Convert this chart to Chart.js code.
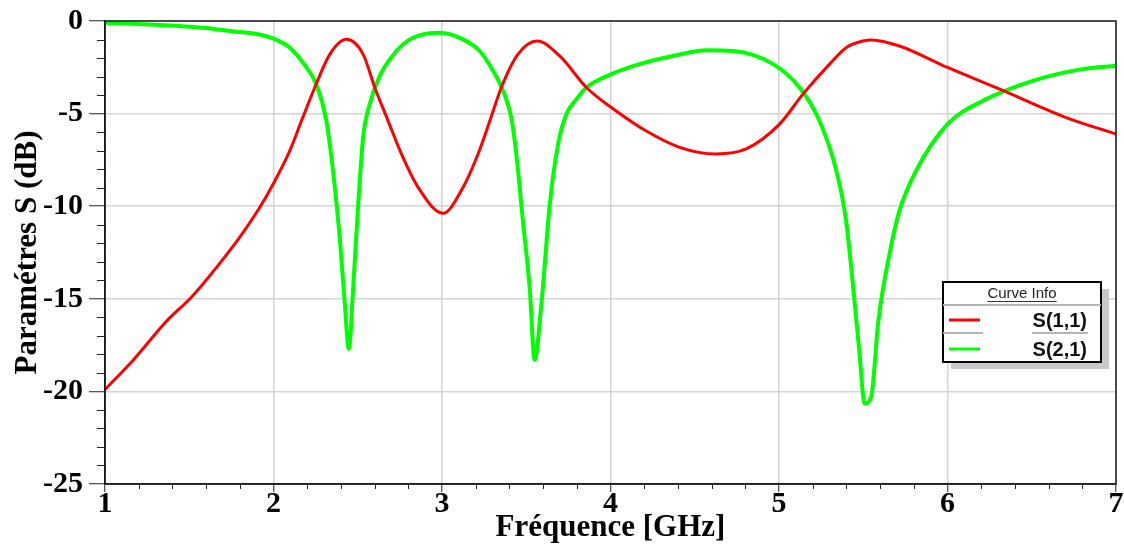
<!DOCTYPE html>
<html>
<head>
<meta charset="utf-8">
<script src="https://cdn.jsdelivr.net/npm/chart.js@4.4.1/dist/chart.umd.min.js"></script>
<style>
  body { margin: 0; background: #fff; }
  #wrap { width: 1124px; height: 550px; }
</style>
</head>
<body>
<div id="wrap"><canvas id="sparams" width="1124" height="550"></canvas></div>
<script>
// S(1,1)
const s11Freq = [1.0, 1.168, 1.366, 1.514, 1.662, 1.80, 1.919, 1.998, 2.097, 2.166, 2.245, 2.334, 2.433, 2.532, 2.601,
  2.68, 2.759, 2.858, 3.006, 3.125, 3.214, 3.284, 3.352, 3.45, 3.565, 3.70, 3.857, 4.005, 4.21, 4.41,
  4.627, 4.805, 5.003, 5.142, 5.30, 5.398, 5.498, 5.55, 5.715, 6.0, 6.31, 6.70, 7.0];
const s11dB = [-19.9, -18.3, -16.2, -14.9, -13.3, -11.67, -10.06, -8.8, -7.0, -5.39, -3.59, -1.8, -0.99, -1.8, -3.59,
  -5.39, -7.18, -8.98, -10.38, -8.98, -7.18, -5.39, -3.59, -1.8, -1.08, -1.9, -3.59, -4.67, -5.93, -6.82,
  -7.18, -6.91, -5.57, -3.95, -2.33, -1.44, -1.08, -1.02, -1.35, -2.51, -3.68, -5.2, -6.1];

// S(2,1)
const s21Freq = [1.0, 1.3, 1.6, 1.741, 1.9, 2.0, 2.097, 2.196, 2.254, 2.314, 2.353, 2.393, 2.423, 2.447, 2.473,
  2.503, 2.532, 2.571, 2.631, 2.73, 2.828, 2.987, 3.125, 3.224, 3.303, 3.362, 3.411, 3.441, 3.48, 3.52,
  3.55, 3.59, 3.64, 3.69, 3.74, 3.80, 3.857, 4.005, 4.172, 4.37, 4.57, 4.73, 4.965, 5.122, 5.24, 5.34,
  5.398, 5.44, 5.478, 5.508, 5.547, 5.59, 5.656, 5.715, 5.814, 6.0, 6.21, 6.506, 6.80, 7.0];
const s21dB = [-0.1, -0.2, -0.38, -0.54, -0.7, -0.95, -1.44, -2.51, -3.41, -5.39, -8.08, -11.67, -15.26, -17.7, -14.37,
  -9.88, -6.28, -4.49, -2.96, -1.62, -0.9, -0.63, -0.99, -1.62, -2.69, -3.77, -5.2, -7.18, -10.78, -14.37,
  -18.3, -15.26, -9.88, -6.6, -5.0, -4.2, -3.59, -2.87, -2.33, -1.89, -1.58, -1.62, -2.33, -3.59, -5.39, -8.08,
  -10.78, -14.37, -17.96, -20.65, -20.3, -16.16, -12.57, -10.24, -8.08, -5.57, -4.31, -3.23, -2.6, -2.42];

const seriesNames = ['S(1,1)', 'S(2,1)'];
const seriesColors = ['#ff0000', '#00ff00'];
const xTicks = [1, 2, 3, 4, 5, 6, 7];
const yTicks = [0, -5, -10, -15, -20, -25];

const toPoints = (fs, vs) => fs.map((f, i) => ({ x: f, y: vs[i] }));

// minor ticks, frame and the "Curve Info" box
const extras = {
    id: 'extras',
    afterDraw(chart) {
        const { ctx, chartArea: a, scales: { x, y } } = chart;
        ctx.save();
        ctx.strokeStyle = '#1a1a1a';
        ctx.lineWidth = 1.5;
        ctx.strokeRect(a.left, a.top, a.right - a.left, a.bottom - a.top);

        ctx.lineWidth = 1;
        ctx.strokeStyle = '#222';
        ctx.beginPath();
        for (let v = 1; v < 7; v += 0.2) {
            const r = Math.round(v * 5) / 5;
            if (Math.abs(r - Math.round(r)) < 1e-6) continue;
            const px = Math.round(x.getPixelForValue(r)) + 0.5;
            ctx.moveTo(px, a.bottom);
            ctx.lineTo(px, a.bottom + 5);
        }
        for (let v = -24; v < 0; v++) {
            if (v % 5 === 0) continue;
            const py = Math.round(y.getPixelForValue(v)) + 0.5;
            ctx.moveTo(a.left - 8, py);
            ctx.lineTo(a.left, py);
        }
        ctx.stroke();

        // legend box
        const bx = 943, by = 282, bw = 158, bh = 80;
        ctx.fillStyle = '#c8c8c8';
        ctx.fillRect(bx + 8, by + 7, bw, bh);
        ctx.fillStyle = '#fff';
        ctx.fillRect(bx, by, bw, bh);
        ctx.strokeStyle = '#000';
        ctx.lineWidth = 2;
        ctx.strokeRect(bx, by, bw, bh);

        ctx.fillStyle = '#222';
        ctx.font = '15px "Liberation Sans", Arial, sans-serif';
        ctx.textAlign = 'center';
        ctx.textBaseline = 'middle';
        ctx.fillText('Curve Info', bx + 79, by + 12);
        const tw = ctx.measureText('Curve Info').width;
        ctx.strokeStyle = '#333';
        ctx.lineWidth = 1;
        ctx.beginPath();
        ctx.moveTo(bx + 79 - tw / 2, by + 19.5);
        ctx.lineTo(bx + 79 + tw / 2, by + 19.5);
        ctx.stroke();

        ctx.strokeStyle = '#b4b4b4';
        ctx.lineWidth = 2;
        ctx.beginPath();
        ctx.moveTo(bx, by + 23);
        ctx.lineTo(bx + bw, by + 23);
        ctx.moveTo(bx, by + 51);
        ctx.lineTo(bx + 40, by + 51);
        ctx.moveTo(bx + 89, by + 51);
        ctx.lineTo(bx + 145, by + 51);
        ctx.stroke();

        ctx.font = 'bold 20px "Liberation Sans", Arial, sans-serif';
        ctx.textAlign = 'right';
        seriesNames.forEach((name, i) => {
            const ry = by + 38 + i * 29;
            ctx.strokeStyle = seriesColors[i];
            ctx.lineWidth = 3;
            ctx.beginPath();
            ctx.moveTo(bx + 6, ry);
            ctx.lineTo(bx + 37, ry);
            ctx.stroke();
            ctx.fillStyle = '#111';
            ctx.fillText(name, bx + 144, ry + 1);
        });
        ctx.restore();
    }
};

const serif = '"Liberation Serif", "Times New Roman", serif';

new Chart(document.getElementById('sparams'), {
    type: 'line',
    data: {
        datasets: [{
            label: seriesNames[0],
            data: toPoints(s11Freq, s11dB),
            borderColor: seriesColors[0],
            borderWidth: 3,
            pointRadius: 0,
            cubicInterpolationMode: 'monotone'
        }, {
            label: seriesNames[1],
            data: toPoints(s21Freq, s21dB),
            borderColor: seriesColors[1],
            borderWidth: 4,
            pointRadius: 0,
            cubicInterpolationMode: 'monotone'
        }]
    },
    options: {
        responsive: false,
        animation: false,
        events: [],
        layout: { padding: { top: 20, right: 8, left: 0, bottom: 0 } },
        plugins: {
            legend: { display: false },
            tooltip: { enabled: false }
        },
        scales: {
            x: {
                type: 'linear',
                min: 1,
                max: 7,
                afterFit: s => { s.height = 66; },
                afterBuildTicks: s => { s.ticks = xTicks.map(v => ({ value: v })); },
                grid: { color: '#d4d4d4', lineWidth: 1.5, tickColor: '#222', tickLength: 8, tickWidth: 1 },
                border: { color: '#1a1a1a', width: 1.5 },
                ticks: {
                    color: '#000',
                    padding: -3,
                    maxRotation: 0,
                    font: { family: serif, size: 30, weight: 'bold', lineHeight: 1 }
                },
                title: {
                    display: true,
                    text: 'Fréquence [GHz]',
                    color: '#000',
                    padding: { top: 0, bottom: 3 },
                    font: { family: serif, size: 31, weight: 'bold' }
                }
            },
            y: {
                type: 'linear',
                min: -25,
                max: 0,
                afterFit: s => { s.width = 105; },
                afterBuildTicks: s => { s.ticks = yTicks.map(v => ({ value: v })); },
                grid: { color: '#d4d4d4', lineWidth: 1.5, tickColor: '#222', tickLength: 16, tickWidth: 1 },
                border: { color: '#1a1a1a', width: 1.5 },
                ticks: {
                    color: '#000',
                    padding: 6,
                    font: { family: serif, size: 30, weight: 'bold', lineHeight: 1 }
                },
                title: {
                    display: true,
                    text: 'Paramétres S (dB)',
                    color: '#000',
                    padding: { top: 9, bottom: 0 },
                    font: { family: serif, size: 31, weight: 'bold' }
                }
            }
        }
    },
    plugins: [extras]
});
</script>
</body>
</html>
